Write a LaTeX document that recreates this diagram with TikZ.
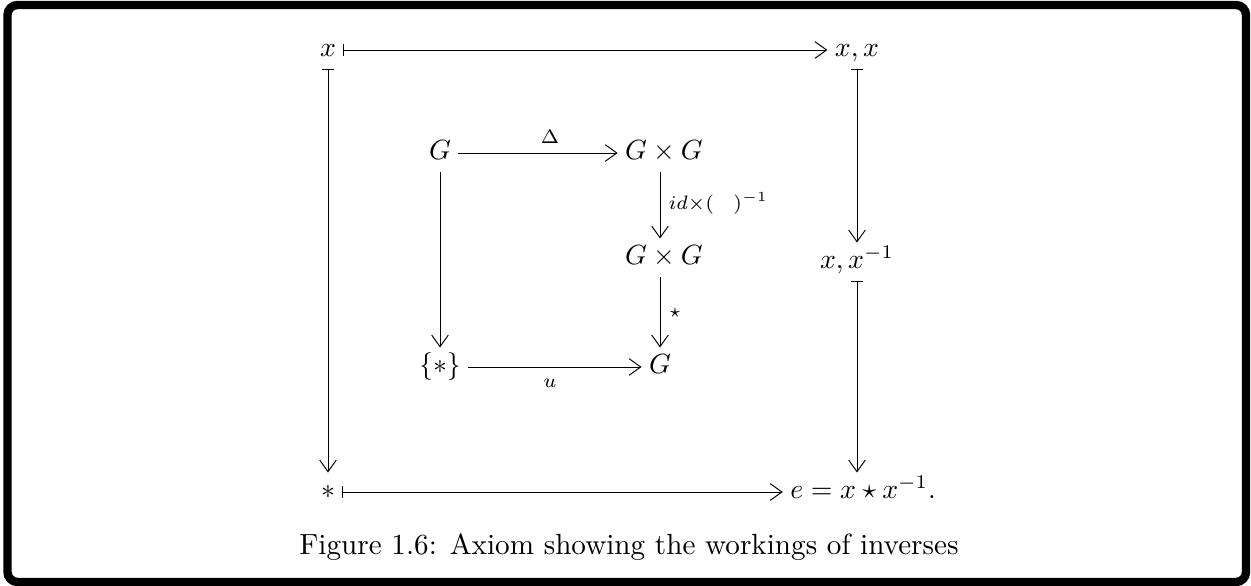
\documentclass[tikz,border=0pt]{standalone}
\usepackage{amsmath,amssymb}
\usetikzlibrary{arrows.meta}
\tikzset{
  obj/.style={inner sep=2.5pt, text height=1.55ex, text depth=0.45ex},
  lab/.style={inner sep=0pt},
  tip/.tip={Straight Barb[length=4.2pt,width=6pt,line width=0.35pt]},
  arr/.style={draw, line width=0.35pt, -tip},
  maps/.style={draw, line width=0.35pt, {Bar[width=4.2pt,line width=0.35pt]}-tip},
}
\begin{document}
\begin{tikzpicture}[x=0.36pt,y=-0.36pt]
\useasboundingbox (0,0) rectangle (1251,586);
\draw[line width=8.4*0.36pt, rounded corners=10*0.36pt] (7.5,5) rectangle (1246,582);
% outer square
\node[obj] (x) at (328,50) {$x$};
\node[obj] (xx) at (857,50) {$x,x$};
\node[obj] (xxi) at (857,262) {$x,x^{-1}$};
\node[obj] (st) at (328,492) {$*$};
\node[obj] (e) at (863,492) {$e=x\star x^{-1}.$};
% inner square
\node[obj] (G) at (440,153) {$G$};
\node[obj] (GG) at (664,153) {$G\times G$};
\node[obj] (GG2) at (664,258) {$G\times G$};
\node[obj] (G2) at (660,367) {$G$};
\node[obj] (one) at (440,367) {$\{*\}$};
% arrows
\draw[maps] (x) -- (xx);
\draw[maps] (x) -- (st);
\draw[maps] (xx.south) -- (xx.south |- xxi.north);
\draw[maps] (xxi.south) -- (xxi.south |- e.north);
\draw[maps] (st) -- (e);
\draw[arr] (G) -- (GG);
\draw[arr] (G) -- (one);
\draw[arr] (GG.south -| G2) -- (G2 |- GG2.north);
\draw[arr] (GG2.south -| G2) -- (G2);
\draw[arr] (one) -- (G2);
% labels
\node[lab] (ld) at (550,137) {$\scriptstyle\Delta$};
\node[lab, anchor=west] (li) at (668,203) {$\scriptstyle id\times(\hskip7pt)^{-1}$};
\node[lab] (ls) at (675,313) {$\scriptstyle\star$};
\node[lab] (lu) at (550,383) {$\scriptstyle u$};
% caption
\node[inner sep=0pt, font=\fontsize{10.5}{12}\selectfont] (cap) at (629,547) {Figure 1.6: Axiom showing the workings of inverses};
\end{tikzpicture}
\end{document}
